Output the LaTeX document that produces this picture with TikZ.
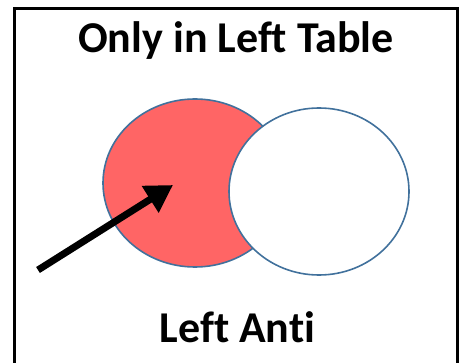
\documentclass[tikz,border=0pt]{standalone}
\usepackage{fontspec}
\setmainfont[Ligatures={NoCommon}]{Carlito}
\usetikzlibrary{arrows.meta}
\definecolor{venred}{HTML}{FF6565}
\definecolor{venblue}{HTML}{41719C}
\tikzset{ensemble/.style={line width=1.6,draw=venblue}}
\newcommand{\setc}[4]{\draw[ensemble,fill=#4] (#1) ellipse ({#2} and {#3})}
\newcommand{\titre}[3]{\node[anchor=base,font=\bfseries\fontsize{44}{50}\selectfont] (#1) at (#2) {#3}}

\begin{document}
\begin{tikzpicture}[x=1pt,y=-1pt]
	\useasboundingbox (0,0) rectangle (460,363);
	\draw[line width=3] (14.5,363) -- (14.5,8.5) -- (457.5,8.5) -- (457.5,363);
	\titre{haut}{236,53}{Only in Left Table};
	\titre{bas}{237.5,342}{Left Anti};
	\coordinate (gauche) at (195,183);
	\coordinate (droite) at (319,191.5);
	\setc{gauche}{92}{84}{venred};
	\setc{droite}{90}{83.5}{white};
	\coordinate (queue) at (38,270);
	\coordinate (pointe) at (173,185);
	\draw[line width=7,-{Triangle[length=27,width=30]}] (queue) -- (pointe);
\end{tikzpicture}
\end{document}
